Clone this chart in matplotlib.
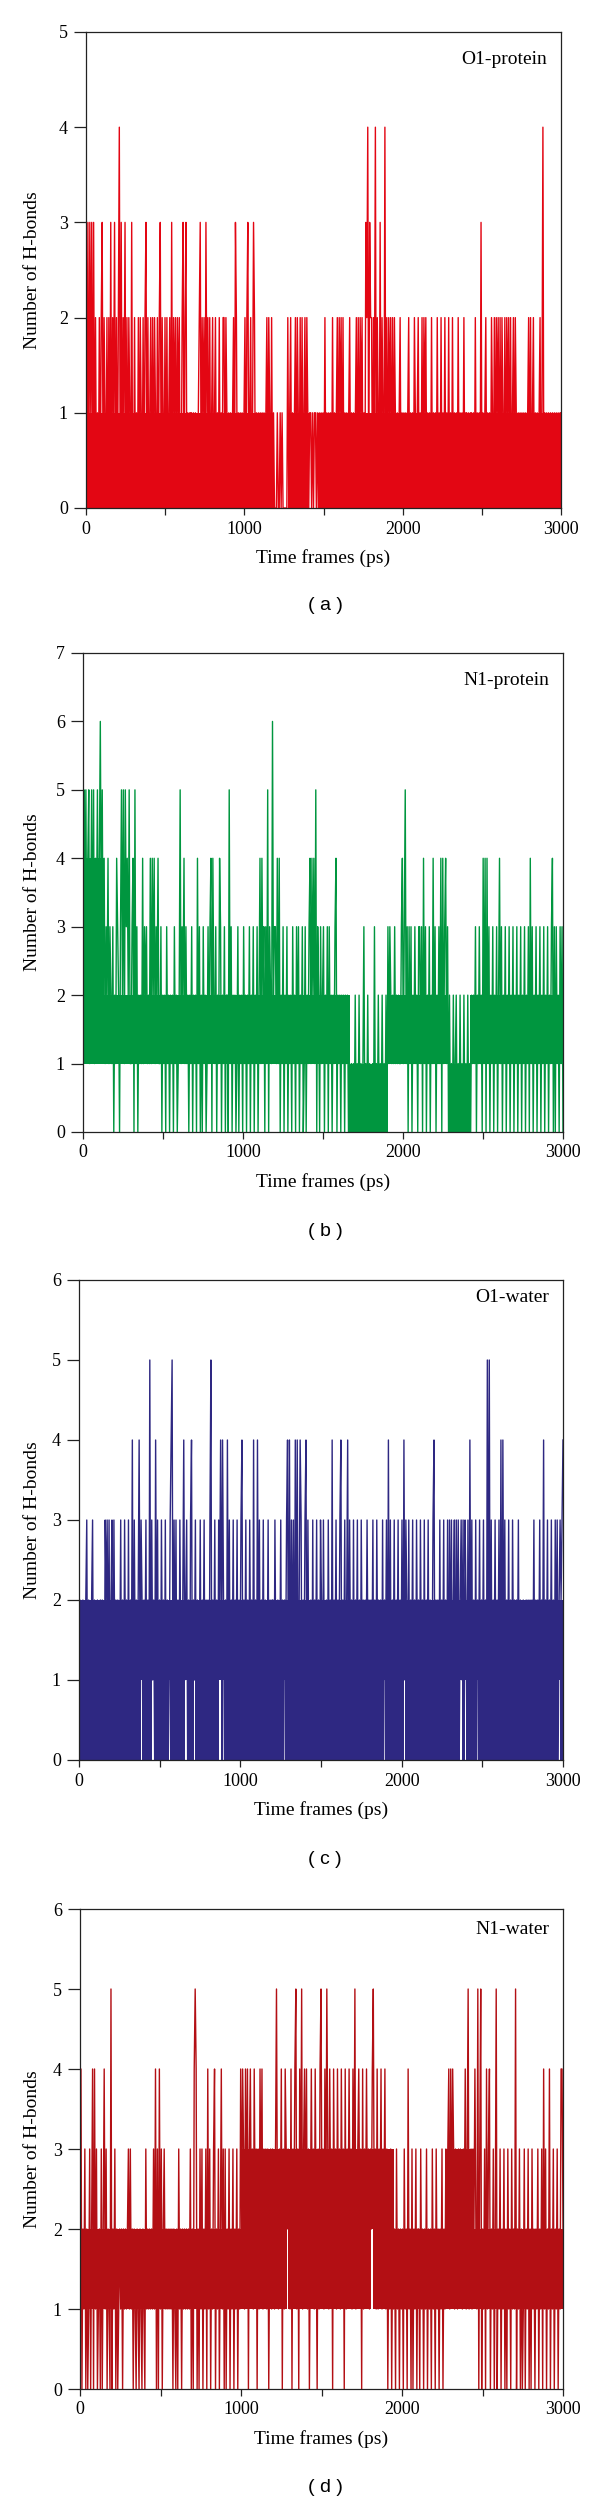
import numpy as np
import matplotlib
matplotlib.use("Agg")
import matplotlib.pyplot as plt

# number of H-bonds per frame (one digit = 6 ps, one row = 300 ps)
o1_protein = [
    "4030313030" "2010202302" "1020203021" "3020240302" "1302021030",
    "0201020210" "2023020120" "2021020230" "2102020120" "3021202120",
    "0230230101" "1101010012" "3021203120" "2012012010" "2010220210",
    "1010120320" "1010101202" "3012013201" "0101010101" "2021020100",
    "0100101000" "0020120101" "2021020201" "2021011010" "1101010101",
    "0201010102" "0101202120" "2010101201" "0101202021" "2010324032",
    "2021402103" "0210402021" "2020210101" "2010101012" "0101021012",
    "0102021201" "0102010102" "0102010201" "0201020101" "0201010201",
    "1010110102" "0101030101" "2010102102" "0212020210" "2021202012",
    "0210101010" "1010120201" "2010101201" "4010101010" "1010101011",
]
n1_protein = [
    "0535245135" "2514352463" "5241324132" "1302143203" "5251534251",
    "1340513021" "2141323121" "4142413241" "1302120312" "0212031201",
    "2513241312" "0213021204" "1302031201" "3134042130" "2143021302",
    "2051302120" "1302120312" "0213021302" "1302414230" "3150321623",
    "3141402130" "2130212031" "2031302130" "1302134142" "4150320312",
    "3021303120" "2134021202" "1202120101" "0102010201" "0130102010",
    "0103010201" "0201020313" "2121312121" "1341351303" "1302131203",
    "3130413021" "3021413021" "3140413413" "0201020120" "1020102010",
    "2010212130" "2131204140" "4130213021" "3024130213" "0213021302",
    "1302130213" "0213041302" "1302130213" "0213021340" "3031203130",
]
o1_water = [
    "0201201230" "2012302102" "0120210323" "1302303120" "2013020312",
    "0302140312" "0241320213" "0205031204" "1302031203" "0201345031",
    "3020310241" "2302034021" "3020130213" "0212035021" "3020324142",
    "0204130213" "0213021340" "2130203120" "4020413021" "3020130212",
    "2031020130" "2021340403" "1304140243" "0213403102" "0302130203",
    "2031020312" "0402130213" "4021302403" "1203021302" "0312121312",
    "0213020312" "0203021304" "0302130213" "0213041320" "3021302031",
    "2031203021" "3020134021" "2030213020" "3031302303" "1302313032",
    "0304130203" "0213021302" "0515030213" "0213040413" "0213020312",
    "0213020120" "1202120213" "0202130214" "0213021302" "0313023234",
]
n1_water = [
    "0402130201" "3024041301" "2030241302" "1050213020" "1212021212",
    "3131202102" "1021021031" "2121213140" "3041302312" "1212120210",
    "2031202121" "2121302045" "4020313021" "3041302134" "0213024130",
    "3021302130" "2130214243" "1424034231" "4230314241" "3231302313",
    "2135213240" "3143232140" "3245130425" "1342413024" "2314203145",
    "2314253142" "3042314231" "4230413242" "3142512342" "3041324231",
    "3245231413" "2413241302" "1302120312" "0212031204" "1203021302",
    "2031202130" "2120312031" "2021302132" "3414243132" "1323213241",
    "3512313242" "1503502130" "4134021302" "5021302130" "2031203121",
    "5021302013" "0213020312" "0213021304" "1302140213" "0213021442",
]

# spans where the count keeps flipping between two levels so fast that the
# trace looks solid: (start ps, end ps, low level, high level)
o1_protein_solid = [(0, 1185, 0, 1), (1275, 1410, 0, 1), (1465, 3000, 0, 1)]
n1_protein_solid = [(0, 1670, 1, 2), (1900, 2280, 1, 2), (2420, 3000, 1, 2),
                    (1665, 1905, 0, 1), (2280, 2420, 0, 1), (0, 130, 2, 4)]
o1_water_solid = [(0, 3000, 1, 2),
                  (0, 382, 0, 1), (393, 453, 0, 1), (465, 557, 0, 1),
                  (563, 656, 0, 1), (668, 712, 0, 1), (718, 870, 0, 1),
                  (882, 895, 0, 1), (900, 1273, 0, 1), (1279, 1893, 0, 1),
                  (1899, 2012, 0, 1), (2018, 2361, 0, 1), (2373, 2394, 0, 1),
                  (2400, 2465, 0, 1), (2471, 2969, 0, 1), (2981, 3000, 0, 1)]
n1_water_solid = [(0, 240, 1, 2), (246, 1284, 1, 2), (1294, 1806, 1, 2),
                  (1822, 3000, 1, 2), (1000, 1950, 2, 3), (2270, 2450, 2, 3)]

labels = ["O1-protein", "N1-protein", "O1-water", "N1-water"]
tags = ["( a )", "( b )", "( c )", "( d )"]
y_max = [5, 7, 6, 6]
t_end = 3000

colors = ["#e30613", "#00963f", "#2e2882", "#b30f14"]
# axes boxes in pixels: left, right, top, bottom ; label offset from top
boxes = [(86, 561, 32, 508, 28), (83, 563, 653, 1132, 28),
         (79, 563, 1280, 1760, 18), (80, 563, 1909, 2389, 21)]
tag_y = [605, 1231, 1859, 2488]

W, H = 600, 2504
plt.rcParams['font.family'] = ['Liberation Serif', 'DejaVu Serif']
fig = plt.figure(figsize=(W / 100, H / 100), dpi=100)

series = [o1_protein, n1_protein, o1_water, n1_water]
solids = [o1_protein_solid, n1_protein_solid, o1_water_solid, n1_water_solid]
for k, blocks in enumerate(series):
    vals = np.array([int(c) for c in "".join(blocks)])
    t = np.linspace(0, t_end, len(vals))
    l, r, top, bot, off = boxes[k]
    w, h = r - l, bot - top
    ax = fig.add_axes([l / W, 1 - bot / H, w / W, h / H])
    for t0, t1, lo, hi in solids[k]:
        ax.fill_between([t0, t1], [lo, lo], [hi, hi], color=colors[k], lw=0)
    ax.plot(t, vals, color=colors[k], lw=1.0)
    ax.set_xlim(0, t_end)
    ax.set_ylim(0, y_max[k])
    ax.set_xticks([0, 1000, 2000, 3000])
    ax.set_xticks([500, 1500, 2500], minor=True)
    ax.set_yticks(range(0, y_max[k] + 1))
    ax.tick_params(axis='y', length=9, width=0.9, pad=4, labelsize=13,
                   right=False, colors='#222222', labelcolor='black')
    ax.tick_params(axis='x', which='both', length=5, width=0.9, pad=4,
                   labelsize=13, top=False, colors='#222222', labelcolor='black')
    for s in ax.spines.values():
        s.set_linewidth(0.9)
        s.set_color('#222222')
        s.set_zorder(3)
    ax.set_ylabel("Number of H-bonds", fontsize=14)
    ax.set_xlabel("Time frames (ps)", fontsize=14)
    ax.yaxis.set_label_coords(-(l - 41) / w, 0.5)
    ax.xaxis.set_label_coords(0.5, -41 / h)
    ax.text(1 - 14 / w, 1 - off / h, labels[k], transform=ax.transAxes,
            ha='right', va='center', fontsize=14)
    fig.text(325 / W, 1 - tag_y[k] / H, tags[k], ha='center', va='center',
             fontsize=14, family=['Liberation Sans', 'DejaVu Sans'])

fig.savefig("out.png", dpi=100)
